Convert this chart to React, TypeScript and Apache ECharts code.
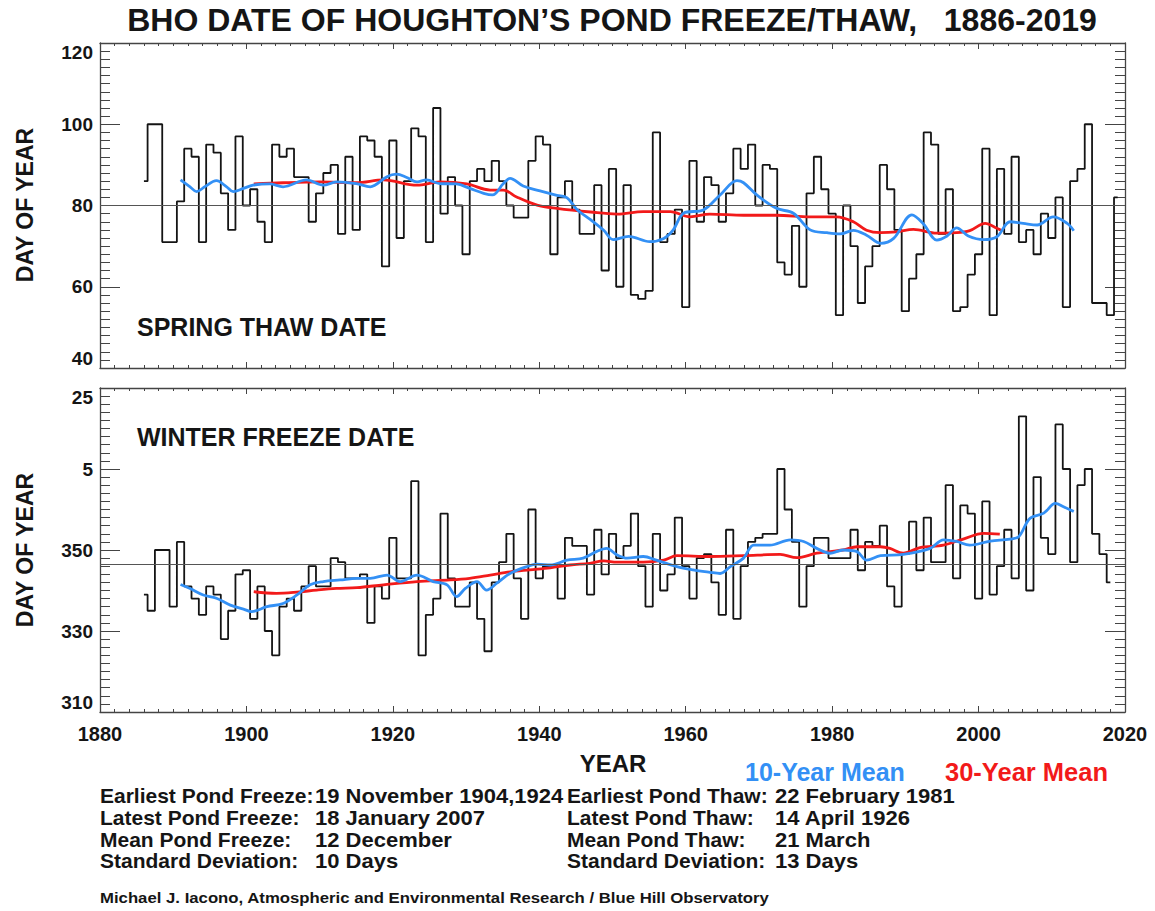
import React, { useEffect, useRef } from "react";
import * as echarts from "echarts";

// ---------- DATA ----------
const FIRST_YEAR = 1886;
const X_TICK_YEARS = [1880, 2020];

// Spring thaw day-of-year, 1886..2019 (one value per year)
const thawDays = [
  86, 100, 100, 71,
  71, 81, 94, 92, 71, 95, 93, 83, 74, 97,
  80, 84, 76, 71, 95, 92, 94, 87, 87, 76,
  83, 88, 90, 73, 92, 74, 97, 96, 92, 65,
  96, 72, 86, 99, 97, 71, 104, 78, 87, 80,
  68, 86, 89, 86, 91, 86, 80, 77, 77, 91,
  97, 95, 68, 82, 86, 79, 73, 73, 85, 64,
  89, 60, 85, 58, 57, 59, 98, 71, 73, 79,
  55, 91, 76, 87, 85, 76, 83, 94, 89, 95,
  80, 90, 89, 66, 63, 75, 60, 83, 92, 84,
  78, 53, 80, 70, 56, 65, 70, 90, 84, 74,
  54, 62, 68, 98, 95, 73, 84, 54, 55, 63,
  68, 94, 53, 89, 73, 92, 71, 74, 68, 78,
  72, 82, 55, 86, 89, 100, 56, 56, 53, 82,
];

// Winter freeze day-of-year (days past 365 continue into January), 1886..2018
const freezeDays = [
  339, 335, 350, 350,
  336, 352, 341, 338, 334, 341, 339, 328, 335, 344,
  345, 333, 341, 330, 324, 336, 338, 335, 341, 346,
  341, 341, 348, 347, 343, 343, 344, 332, 341, 338,
  353, 343, 343, 367, 324, 334, 338, 359, 343, 336,
  336, 342, 333, 325, 342, 347, 354, 343, 333, 360,
  343, 346, 346, 338, 353, 351, 351, 339, 355, 344,
  354, 348, 351, 359, 346, 336, 354, 340, 344, 358,
  346, 338, 348, 349, 342, 334, 355, 333, 346, 352,
  353, 354, 354, 370, 360, 352, 336, 346, 353, 353,
  348, 348, 348, 355, 345, 352, 351, 356, 341, 336,
  349, 357, 345, 358, 347, 347, 366, 343, 361, 359,
  338, 362, 339, 346, 355, 343, 383, 340, 368, 353,
  349, 381, 370, 347, 366, 370, 354, 349, 342,
];

const THAW_MEAN = 80;
const FREEZE_MEAN = 346.4;

// 10-year and 30-year running means: [year, day]
const thaw10 = [
  [1891, 86.3], [1892.3, 84.6], [1893.2, 83.4], [1894.3, 84.6], [1895.9, 86.1], [1897.3, 84.6],
  [1898.2, 83.4], [1899.6, 84.2], [1900.9, 85], [1903.2, 85.3], [1905, 84.6], [1908.2, 86.3],
  [1910.5, 85], [1912.3, 85.8], [1915, 85.4], [1916.9, 84.6], [1919.2, 87.1], [1920.5, 87.7],
  [1921.9, 86.9], [1923.3, 85.8], [1924.6, 86.3], [1926.4, 85.4], [1928.7, 85.3], [1930.5, 84.2],
  [1932.4, 83], [1933.6, 82.6], [1935.1, 85.4], [1936, 86.7], [1937.8, 84.8], [1940.1, 83.6],
  [1942.4, 82.5], [1943.8, 81.9], [1945.1, 79.1], [1947, 76.5], [1948.8, 73.9], [1950.1, 71.6],
  [1952.2, 72.4], [1955.1, 71.1], [1957, 71.9], [1958.3, 74], [1959.7, 78.1], [1962.4, 78.9],
  [1964.7, 82.6], [1967, 86.1], [1967.9, 85.6], [1969.7, 82.6], [1972.4, 79.3], [1974.7, 78.1],
  [1977, 74], [1979.3, 73.3], [1981.1, 73], [1982.9, 73.9], [1984.7, 72.7], [1986.6, 70.7],
  [1988.4, 71.9], [1990.9, 77.7], [1992.5, 75.4], [1994.3, 71.5], [1995.7, 72.5], [1997, 74.5],
  [1998.6, 72.5], [2000.7, 71.6], [2002.5, 72.3], [2004.3, 76], [2006.1, 75.6], [2008, 75.2],
  [2010.2, 77.2], [2012.1, 75.6], [2013, 73.8],
];
const thaw30 = [
  [1901, 85.3], [1905, 85.6], [1910, 85.8], [1915, 85.6], [1918.7, 86.3], [1923.3, 85],
  [1926.4, 85.8], [1930.1, 85.3], [1933.3, 83.8], [1935.1, 83.8], [1936.9, 82.1], [1939.7, 80.1],
  [1942.4, 79.3], [1947, 78.4], [1950.6, 77.9], [1954.2, 78.5], [1957.9, 78.5], [1960.6, 77.2],
  [1963.3, 77.9], [1967.9, 77.6], [1972.4, 77.6], [1977, 77.2], [1980.6, 77.2], [1982.9, 76],
  [1984.7, 73.9], [1986.6, 73.3], [1988.8, 73.5], [1991.1, 74.1], [1994.3, 73.2], [1997, 73.3],
  [1998.8, 73.8], [2000.9, 75.6], [2002.5, 74.4], [2003.2, 73.8],
];
const freeze10 = [
  [1891, 341.5], [1892.3, 340.5], [1894.1, 338.9], [1895.9, 338.1], [1897.8, 336.4], [1899.6, 335.4],
  [1900.7, 334.8], [1902.8, 336], [1905, 336.8], [1906.9, 338.9], [1908.7, 341.4], [1910.5, 342.2],
  [1912.8, 342.6], [1915.1, 343], [1916.9, 343], [1919.2, 343.8], [1921, 342.2], [1923.3, 343.8],
  [1925.5, 342.2], [1927.4, 341.4], [1928.7, 338.5], [1929.9, 340.5], [1931.5, 342.2], [1932.8, 340.1],
  [1934.2, 341.8], [1936, 344.2], [1938.3, 345.9], [1939.7, 346.5], [1941.5, 346.3], [1943.8, 347.5],
  [1946, 348], [1947.8, 349.6], [1949.2, 350.4], [1950.6, 348.8], [1952, 348], [1954.2, 348.4],
  [1956, 347.5], [1958.8, 345.9], [1961, 345.1], [1963.3, 344.5], [1964.7, 344.2], [1966.1, 345.9],
  [1967.9, 348], [1969.3, 351.2], [1971.5, 351.2], [1974.3, 352.5], [1976.1, 352.1], [1977.9, 350.4],
  [1979.7, 349.2], [1981.5, 350], [1983.4, 349.6], [1984.7, 347.5], [1986.6, 348.6], [1989.7, 348.9],
  [1993.4, 350.4], [1995.2, 352.5], [1997, 352.1], [1998.8, 351.2], [2001.6, 352.2], [2004.3, 352.7],
  [2005.5, 353.3], [2007, 357.8], [2008.9, 359.1], [2010.5, 361.5], [2011.6, 360.7], [2013, 359.5],
];
const freeze30 = [
  [1901, 339.7], [1904.1, 339.3], [1906.9, 339.6], [1909.6, 340.1], [1912.3, 340.5], [1915.1, 340.7],
  [1918.7, 341.4], [1923.3, 342.2], [1927.8, 342.6], [1930.5, 343], [1933.3, 343.8], [1936, 344.6],
  [1938.7, 345.1], [1941.5, 345.6], [1944.2, 346.3], [1946.9, 346.7], [1948.8, 347.3], [1950.6, 347],
  [1954.2, 347], [1957, 347.5], [1958.8, 348.6], [1963.3, 348.4], [1967.9, 348.6], [1972.9, 348.9],
  [1975.2, 348.1], [1977.9, 349.2], [1981.5, 350], [1983.4, 350.8], [1986.6, 350.8], [1987.9, 350.4],
  [1989.7, 349.2], [1992, 350.6], [1995.2, 351.2], [1997.9, 352.7], [2000.7, 354.1], [2002.9, 353.9],
];

// axis ranges
const THAW_RANGE = [40, 120];
const FREEZE_RANGE = [310, 390];
const Y_STEP = 20;
const X_STEP = 20;

const infoLabelsLeft = ["Earliest Pond Freeze:", "Latest Pond Freeze:", "Mean Pond Freeze:", "Standard Deviation:"];
const infoValuesLeft = ["19 November 1904,1924", "18 January 2007", "12 December", "10 Days"];
const infoLabelsRight = ["Earliest Pond Thaw:", "Latest Pond Thaw:", "Mean Pond Thaw:", "Standard Deviation:"];
const infoValuesRight = ["22 February 1981", "14 April 1926", "21 March", "13 Days"];

// ---------- STYLE ----------
const FONT = '"Liberation Sans", Arial, Helvetica, sans-serif';
const BLUE = "#3390f5";
const RED = "#f21a1a";
const FRAME = "#444";

function txt(text: string, x: number, y: number, size: number, o: any = {}) {
  const align = o.align || "left";
  return {
    type: "text",
    x,
    y,
    rotation: o.rotation || 0,
    scaleX: o.scaleX || 1,
    silent: true,
    z: 100,
    style: {
      text,
      fontFamily: FONT,
      fontWeight: "bold",
      fontSize: size,
      fill: o.color || "#151515",
      textAlign: align,
      textVerticalAlign: "middle",
      align,
      verticalAlign: "middle",
    },
  };
}

const GRID_LEFT = 100;
const GRID_W = 1025;
const GRIDS = [
  { left: GRID_LEFT, top: 43, width: GRID_W, height: 325 },
  { left: GRID_LEFT, top: 388, width: GRID_W, height: 324 },
];

function xAxisDef(grid: number, position: string, labels: boolean) {
  return {
    type: "value",
    gridIndex: grid,
    position,
    min: X_TICK_YEARS[0],
    max: X_TICK_YEARS[1],
    interval: X_STEP,
    axisLine: { show: true, onZero: false, lineStyle: { color: FRAME, width: 1.3 } },
    axisTick: { show: true, inside: true, length: 6, lineStyle: { color: FRAME, width: 1 } },
    minorTick: { show: true, splitNumber: 10, length: 3, lineStyle: { color: FRAME, width: 1 } },
    splitLine: { show: false },
    axisLabel: {
      show: labels,
      margin: 12,
      fontFamily: FONT,
      fontWeight: "bold",
      fontSize: 20,
      color: "#151515",
      formatter: (v: number) => String(v),
    },
  };
}

function yAxisDef(grid: number, position: string, labels: boolean, range: number[], fmt?: (v: number) => string) {
  const offset = range[0] % Y_STEP; // keep axis min a multiple of the interval
  return {
    type: "value",
    gridIndex: grid,
    position,
    min: range[0] - offset,
    max: range[1] - offset,
    interval: Y_STEP,
    axisLine: { show: true, onZero: false, lineStyle: { color: FRAME, width: 1.3 } },
    axisTick: { show: true, inside: true, length: 20, lineStyle: { color: FRAME, width: 1 } },
    minorTick: { show: true, splitNumber: 10, length: 10, lineStyle: { color: FRAME, width: 1 } },
    splitLine: { show: false },
    axisLabel: {
      show: labels,
      margin: 7,
      fontFamily: FONT,
      fontWeight: "bold",
      fontSize: 19,
      color: "#151515",
      verticalAlignMaxLabel: "top",
      verticalAlignMinLabel: "bottom",
      formatter: (v: number) => {
        const d = v + offset;
        return fmt ? fmt(d) : String(d);
      },
    },
  };
}

export default function App() {
  const ref = useRef<HTMLDivElement>(null);

  useEffect(() => {
    if (!ref.current) return;
    const chart = echarts.init(ref.current, undefined, { renderer: "svg" });

    const freezeOffset = FREEZE_RANGE[0] % Y_STEP;
    const thawOffset = THAW_RANGE[0] % Y_STEP;
    const fShift = (v: number) => v - freezeOffset;
    const tShift = (v: number) => v - thawOffset;

    const thawStep = thawDays.map((v, i) => [FIRST_YEAR + i, tShift(v)]);
    const freezeStep = freezeDays.map((v, i) => [FIRST_YEAR + i, fShift(v)]);

    const meanLine = (value: number) => ({
      silent: true,
      symbol: "none",
      label: { show: false },
      lineStyle: { color: "#555", width: 1.1, type: "solid" },
      data: [{ yAxis: value }],
    });

    const curve = (name: string, data: number[][], color: string, xi: number, yi: number, shift: (v: number) => number, z: number) => ({
      name,
      type: "line",
      xAxisIndex: xi,
      yAxisIndex: yi,
      data: data.map((p) => [p[0], shift(p[1])]),
      smooth: 0.35,
      showSymbol: false,
      symbol: "none",
      lineStyle: { color, width: 2.8 },
      z,
    });

    const graphics: any[] = [
      txt("BHO DATE OF HOUGHTON\u2019S POND FREEZE/THAW,   1886-2019", 612, 20, 32, { align: "center" }),
      txt("DAY OF YEAR", 25, 205, 23, { align: "center", rotation: Math.PI / 2 }),
      txt("DAY OF YEAR", 25, 550, 23, { align: "center", rotation: Math.PI / 2 }),
      txt("SPRING THAW DATE", 137, 327, 25),
      txt("WINTER FREEZE DATE", 137, 437, 25),
      txt("YEAR", 613, 763, 24, { align: "center" }),
      txt("10-Year Mean", 745, 772, 25, { color: BLUE }),
      txt("30-Year Mean", 945, 772, 25.5, { color: RED }),
      txt("Michael J. Iacono, Atmospheric and Environmental Research / Blue Hill Observatory", 100, 897, 15.5, { scaleX: 1.08 }),
    ];
    const rowY = [796, 818, 840, 861];
    rowY.forEach((y, i) => {
      graphics.push(txt(infoLabelsLeft[i], 100, y, 20, { scaleX: 1.05 }));
      graphics.push(txt(infoValuesLeft[i], 315, y, 20, { scaleX: 1.1 }));
      graphics.push(txt(infoLabelsRight[i], 567, y, 20, { scaleX: 1.05 }));
      graphics.push(txt(infoValuesRight[i], 775, y, 20, { scaleX: 1.1 }));
    });

    const wrapDay = (d: number) => String(d > 365 ? d - 365 : d);

    chart.setOption({
      animation: false,
      backgroundColor: "#ffffff",
      grid: GRIDS,
      xAxis: [
        xAxisDef(0, "bottom", false),
        xAxisDef(0, "top", false),
        xAxisDef(1, "bottom", true),
        xAxisDef(1, "top", false),
      ],
      yAxis: [
        yAxisDef(0, "left", true, THAW_RANGE),
        yAxisDef(0, "right", false, THAW_RANGE),
        yAxisDef(1, "left", true, FREEZE_RANGE, wrapDay),
        yAxisDef(1, "right", false, FREEZE_RANGE, wrapDay),
      ],
      series: [
        {
          name: "Spring thaw",
          type: "line",
          xAxisIndex: 0,
          yAxisIndex: 0,
          step: "middle",
          data: thawStep,
          showSymbol: false,
          symbol: "none",
          lineStyle: { color: "#141414", width: 1.8 },
          markLine: meanLine(tShift(THAW_MEAN)),
          z: 2,
        },
        curve("Thaw 30-year mean", thaw30, RED, 0, 0, tShift, 3),
        curve("Thaw 10-year mean", thaw10, BLUE, 0, 0, tShift, 4),
        {
          name: "Winter freeze",
          type: "line",
          xAxisIndex: 2,
          yAxisIndex: 2,
          step: "middle",
          data: freezeStep,
          showSymbol: false,
          symbol: "none",
          lineStyle: { color: "#141414", width: 1.8 },
          markLine: meanLine(fShift(FREEZE_MEAN)),
          z: 2,
        },
        curve("Freeze 30-year mean", freeze30, RED, 2, 2, fShift, 3),
        curve("Freeze 10-year mean", freeze10, BLUE, 2, 2, fShift, 4),
      ],
      graphic: graphics,
    });

    return () => chart.dispose();
  }, []);

  return (
    <div
      ref={ref}
      style={{ position: "fixed", left: 0, top: 0, width: 1155, height: 911, background: "#fff" }}
    />
  );
}
